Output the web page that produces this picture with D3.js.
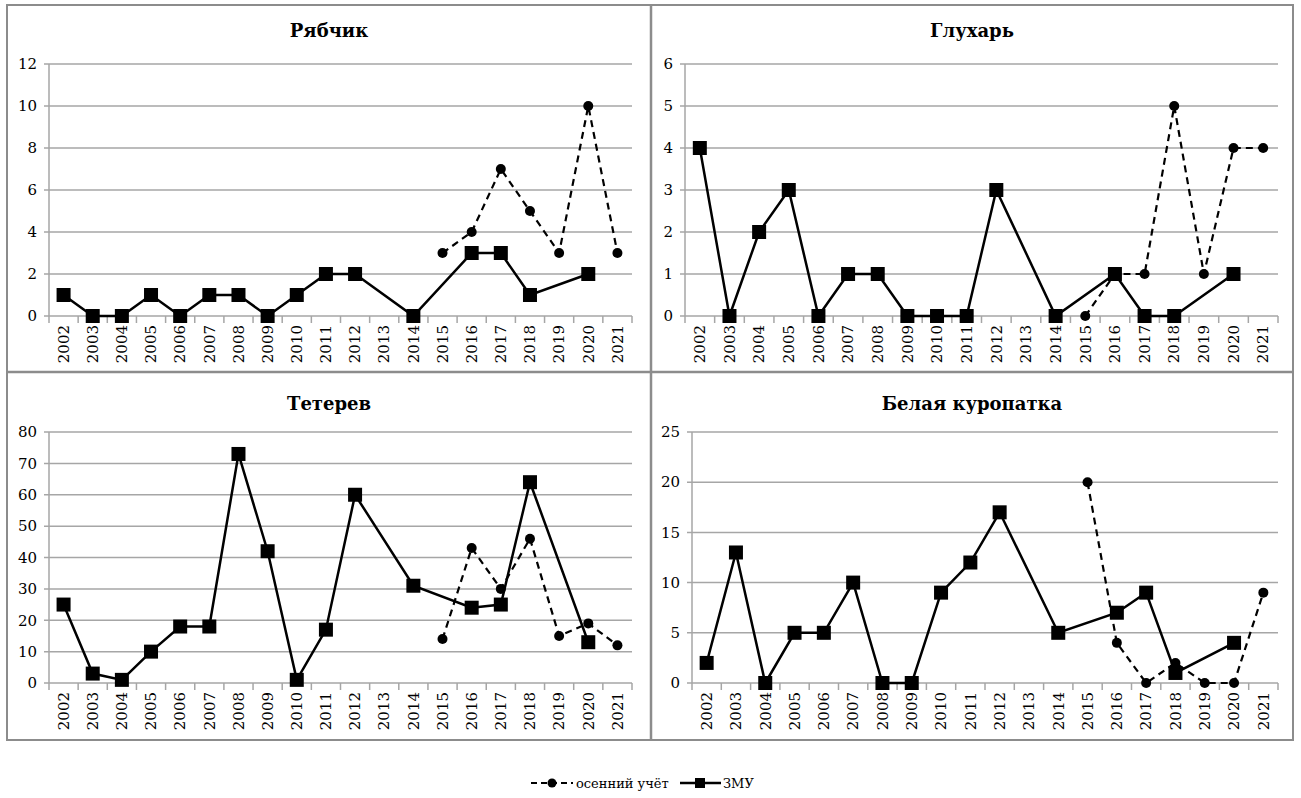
<!DOCTYPE html>
<html>
<head>
    <meta charset="utf-8">
    <script src="https://d3js.org/d3.v7.min.js"></script>
    <style>
        body { margin: 0; background: #fff; }
        text { font-family: "DejaVu Serif", serif; fill: #000; }
    </style>
</head>
<body>
    <svg id="chart" width="1301" height="798"></svg>

    <script>
        // Years on the x axis
        const years = ["2002", "2003", "2004", "2005", "2006", "2007", "2008", "2009", "2010", "2011",
                       "2012", "2013", "2014", "2015", "2016", "2017", "2018", "2019", "2020", "2021"];

        const titles = ["Рябчик", "Глухарь", "Тетерев", "Белая куропатка"];

        // ЗМУ (winter route count), null = no value that year
        const zmuRyabchik = [1, 0, 0, 1, 0, 1, 1, 0, 1, 2, 2, null, 0, null, 3, 3, 1, null, 2, null];
        const zmuGlukhar  = [4, 0, 2, 3, 0, 1, 1, 0, 0, 0, 3, null, 0, null, 1, 0, 0, null, 1, null];
        const zmuTeterev  = [25, 3, 1, 10, 18, 18, 73, 42, 1, 17, 60, null, 31, null, 24, 25, 64, null, 13, null];
        const zmuKuropatka = [2, 13, 0, 5, 5, 10, 0, 0, 9, 12, 17, null, 5, null, 7, 9, 1, null, 4, null];

        // осенний учёт (autumn count), only from 2015
        const autumnRyabchik = [null, null, null, null, null, null, null, null, null, null, null, null, null, 3, 4, 7, 5, 3, 10, 3];
        const autumnGlukhar  = [null, null, null, null, null, null, null, null, null, null, null, null, null, 0, 1, 1, 5, 1, 4, 4];
        const autumnTeterev  = [null, null, null, null, null, null, null, null, null, null, null, null, null, 14, 43, 30, 46, 15, 19, 12];
        const autumnKuropatka = [null, null, null, null, null, null, null, null, null, null, null, null, null, 20, 4, 0, 2, 0, 0, 9];

        // y axis maximum and tick step per panel
        const yMax  = [12, 6, 80, 25];
        const yStep = [2, 1, 10, 5];

        const legendLabels = ["осенний учёт", "ЗМУ"];

        const svg = d3.select("#chart");

        // panel frames (box) and plot areas
        const panels = [
            { box: [7, 5, 651, 372],    plot: [49, 64, 632, 316],   titleY: 31 },
            { box: [651, 5, 1293, 372], plot: [685, 64, 1278, 316], titleY: 31 },
            { box: [7, 372, 651, 740],  plot: [49, 432, 632, 683],  titleY: 404 },
            { box: [651, 372, 1293, 740], plot: [692, 432, 1278, 683], titleY: 404 }
        ];
        const zmu = [zmuRyabchik, zmuGlukhar, zmuTeterev, zmuKuropatka];
        const autumn = [autumnRyabchik, autumnGlukhar, autumnTeterev, autumnKuropatka];

        // outer frame
        svg.append("rect")
            .attr("x", 7).attr("y", 5)
            .attr("width", 1286).attr("height", 735)
            .attr("fill", "none").attr("stroke", "#8c8c8c").attr("stroke-width", 2);
        svg.append("line").attr("x1", 651).attr("x2", 651).attr("y1", 5).attr("y2", 740)
            .attr("stroke", "#8c8c8c").attr("stroke-width", 2.5);
        svg.append("line").attr("x1", 7).attr("x2", 1293).attr("y1", 372).attr("y2", 372)
            .attr("stroke", "#8c8c8c").attr("stroke-width", 2.5);

        panels.forEach(function(p, i) {
            const [x0, y0, x1, y1] = p.plot;
            const g = svg.append("g");

            const x = d3.scaleBand().domain(years).range([x0, x1]);
            const y = d3.scaleLinear().domain([0, yMax[i]]).range([y1, y0]);
            const ticks = d3.range(0, yMax[i] + yStep[i] / 2, yStep[i]);

            // gridlines
            g.append("g")
                .selectAll("line")
                .data(ticks)
                .join("line")
                    .attr("x1", x0 - 5).attr("x2", x1)
                    .attr("y1", d => y(d)).attr("y2", d => y(d))
                    .attr("stroke", "#a6a6a6").attr("stroke-width", 1.5);

            // y axis line
            g.append("line")
                .attr("x1", x0).attr("x2", x0).attr("y1", y0).attr("y2", y1)
                .attr("stroke", "#a6a6a6").attr("stroke-width", 1.5);

            // y tick labels
            g.append("g")
                .selectAll("text")
                .data(ticks)
                .join("text")
                    .attr("x", x0 - 12)
                    .attr("y", d => y(d))
                    .attr("dy", "0.35em")
                    .attr("text-anchor", "end")
                    .style("font-size", "15px")
                    .text(d => d);

            // x ticks at band edges
            g.append("g")
                .selectAll("line")
                .data(years.concat(["end"]))
                .join("line")
                    .attr("x1", (d, j) => x0 + j * x.step())
                    .attr("x2", (d, j) => x0 + j * x.step())
                    .attr("y1", y1).attr("y2", y1 + 7)
                    .attr("stroke", "#a6a6a6").attr("stroke-width", 1.5);

            // year labels
            g.append("g")
                .selectAll("text")
                .data(years)
                .join("text")
                    .attr("transform", d => "translate(" + (x(d) + x.bandwidth() / 2) + "," + (y1 + 9) + ") rotate(-90)")
                    .attr("dy", "0.35em")
                    .attr("text-anchor", "end")
                    .style("font-size", "15px")
                    .text(d => d);

            // title
            g.append("text")
                .attr("x", (p.box[0] + p.box[2]) / 2)
                .attr("y", p.titleY)
                .attr("dy", "0.35em")
                .attr("text-anchor", "middle")
                .style("font-size", "18px")
                .style("font-weight", "bold")
                .text(titles[i]);

            const cx = j => x(years[j]) + x.bandwidth() / 2;
            const line = d3.line().x(d => cx(d.j)).y(d => y(d.v));

            const zmuPts = zmu[i].map((v, j) => ({ v: v, j: j })).filter(d => d.v !== null);
            const autPts = autumn[i].map((v, j) => ({ v: v, j: j })).filter(d => d.v !== null);

            // ЗМУ line + squares
            g.append("path")
                .datum(zmuPts)
                .attr("d", line)
                .attr("fill", "none").attr("stroke", "#000").attr("stroke-width", 2.5);
            g.append("g")
                .selectAll("rect")
                .data(zmuPts)
                .join("rect")
                    .attr("x", d => cx(d.j) - 7)
                    .attr("y", d => y(d.v) - 7)
                    .attr("width", 14).attr("height", 14)
                    .attr("fill", "#000");

            // осенний учёт dashed line + circles
            g.append("path")
                .datum(autPts)
                .attr("d", line)
                .attr("fill", "none").attr("stroke", "#000").attr("stroke-width", 2.2)
                .attr("stroke-dasharray", "7,5");
            g.append("g")
                .selectAll("circle")
                .data(autPts)
                .join("circle")
                    .attr("cx", d => cx(d.j))
                    .attr("cy", d => y(d.v))
                    .attr("r", 5)
                    .attr("fill", "#000");
        });

        // legend
        const leg = svg.append("g");
        leg.append("line").attr("x1", 531).attr("x2", 573).attr("y1", 783).attr("y2", 783)
            .attr("stroke", "#000").attr("stroke-width", 2).attr("stroke-dasharray", "6,4");
        leg.append("circle").attr("cx", 552).attr("cy", 783).attr("r", 4.5).attr("fill", "#000");
        leg.append("text").attr("x", 576).attr("y", 783).attr("dy", "0.35em")
            .style("font-size", "13px").text(legendLabels[0]);
        leg.append("line").attr("x1", 680).attr("x2", 721).attr("y1", 783).attr("y2", 783)
            .attr("stroke", "#000").attr("stroke-width", 2.5);
        leg.append("rect").attr("x", 695).attr("y", 778).attr("width", 10).attr("height", 10).attr("fill", "#000");
        leg.append("text").attr("x", 723).attr("y", 783).attr("dy", "0.35em")
            .style("font-size", "13px").text(legendLabels[1]);
    </script>
</body>
</html>
